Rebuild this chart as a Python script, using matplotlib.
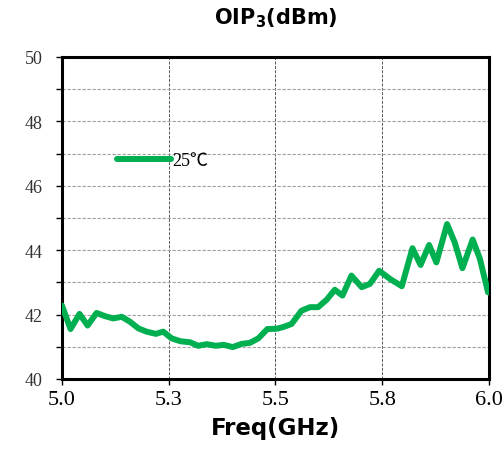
"""
OIP3 vs frequency at 25 C
"""

import matplotlib as mpl
import matplotlib.pyplot as plt
import numpy as np
from matplotlib.ticker import MultipleLocator, FixedLocator

mpl.rcParams["axes.unicode_minus"] = False

# data
freq_ghz = [5.000, 5.020, 5.041, 5.060, 5.081, 5.101, 5.120, 5.140, 5.159, 5.179,
            5.198, 5.220, 5.237, 5.257, 5.278, 5.300, 5.319, 5.339, 5.361, 5.379,
            5.400, 5.421, 5.440, 5.460, 5.481, 5.503, 5.520, 5.538, 5.561, 5.581,
            5.600, 5.620, 5.639, 5.657, 5.678, 5.702, 5.721, 5.743, 5.768, 5.796,
            5.821, 5.840, 5.860, 5.877, 5.902, 5.920, 5.938, 5.962, 5.979, 5.998]
oip3_25c = [42.28, 41.55, 42.02, 41.66, 42.05, 41.95, 41.88, 41.93, 41.78, 41.57,
            41.47, 41.40, 41.47, 41.26, 41.17, 41.14, 41.03, 41.08, 41.03, 41.06,
            40.99, 41.09, 41.12, 41.26, 41.55, 41.56, 41.62, 41.71, 42.12, 42.23,
            42.23, 42.46, 42.77, 42.59, 43.21, 42.85, 42.95, 43.36, 43.11, 42.88,
            44.06, 43.54, 44.16, 43.62, 44.81, 44.24, 43.44, 44.33, 43.73, 42.69]
series_label = "25℃"

x_ticks = [5.0, 5.25, 5.5, 5.75, 6.0]
x_ticklabels = ["5.0", "5.3", "5.5", "5.8", "6.0"]
y_ticks = [40, 41, 42, 43, 44, 45, 46, 47, 48, 49, 50]

GREEN = "#00B050"
SERIF = ["Liberation Serif", "Noto Sans CJK SC"]

fig, ax = plt.subplots(figsize=(5.04, 4.60), dpi=100)
fig.subplots_adjust(left=0.123, right=0.970, top=0.874, bottom=0.174)

ax.plot(freq_ghz, oip3_25c, color=GREEN, lw=4.3, solid_joinstyle="round",
        solid_capstyle="round", label=series_label, zorder=3)

ax.set_xlim(5.0, 6.0)
ax.set_ylim(40, 50)
ax.xaxis.set_major_locator(FixedLocator(x_ticks))
ax.set_xticklabels(x_ticklabels, fontfamily=SERIF, fontsize=16)
ax.yaxis.set_major_locator(FixedLocator(y_ticks))
ax.set_yticklabels([str(v) if v % 2 == 0 else "" for v in y_ticks],
                   fontfamily=SERIF, fontsize=13, color="#333333")
ax.tick_params(axis="both", direction="out", length=4, width=1, color="black")
ax.tick_params(axis="x", pad=4)
ax.tick_params(axis="y", pad=10)

ax.yaxis.grid(True, ls=(0, (3, 1.5)), color="#a0a0a0", lw=0.8)
ax.xaxis.grid(True, ls=(0, (3, 1.5)), color="#555555", lw=0.7)
ax.set_axisbelow(True)

for s in ax.spines.values():
    s.set_linewidth(2.2)
    s.set_color("black")

ax.set_title("OIP$_\\mathbf{3}$(dBm)", fontsize=15, fontweight="bold", pad=24)
ax.set_xlabel("Freq(GHz)", fontsize=16.5, fontweight="bold", labelpad=5)

leg = ax.legend(loc="center left", bbox_to_anchor=(0.09, 0.677), frameon=False,
                handlelength=3.0, handletextpad=0.1,
                prop={"family": SERIF, "size": 13})

plt.savefig("out.png", dpi=100)
